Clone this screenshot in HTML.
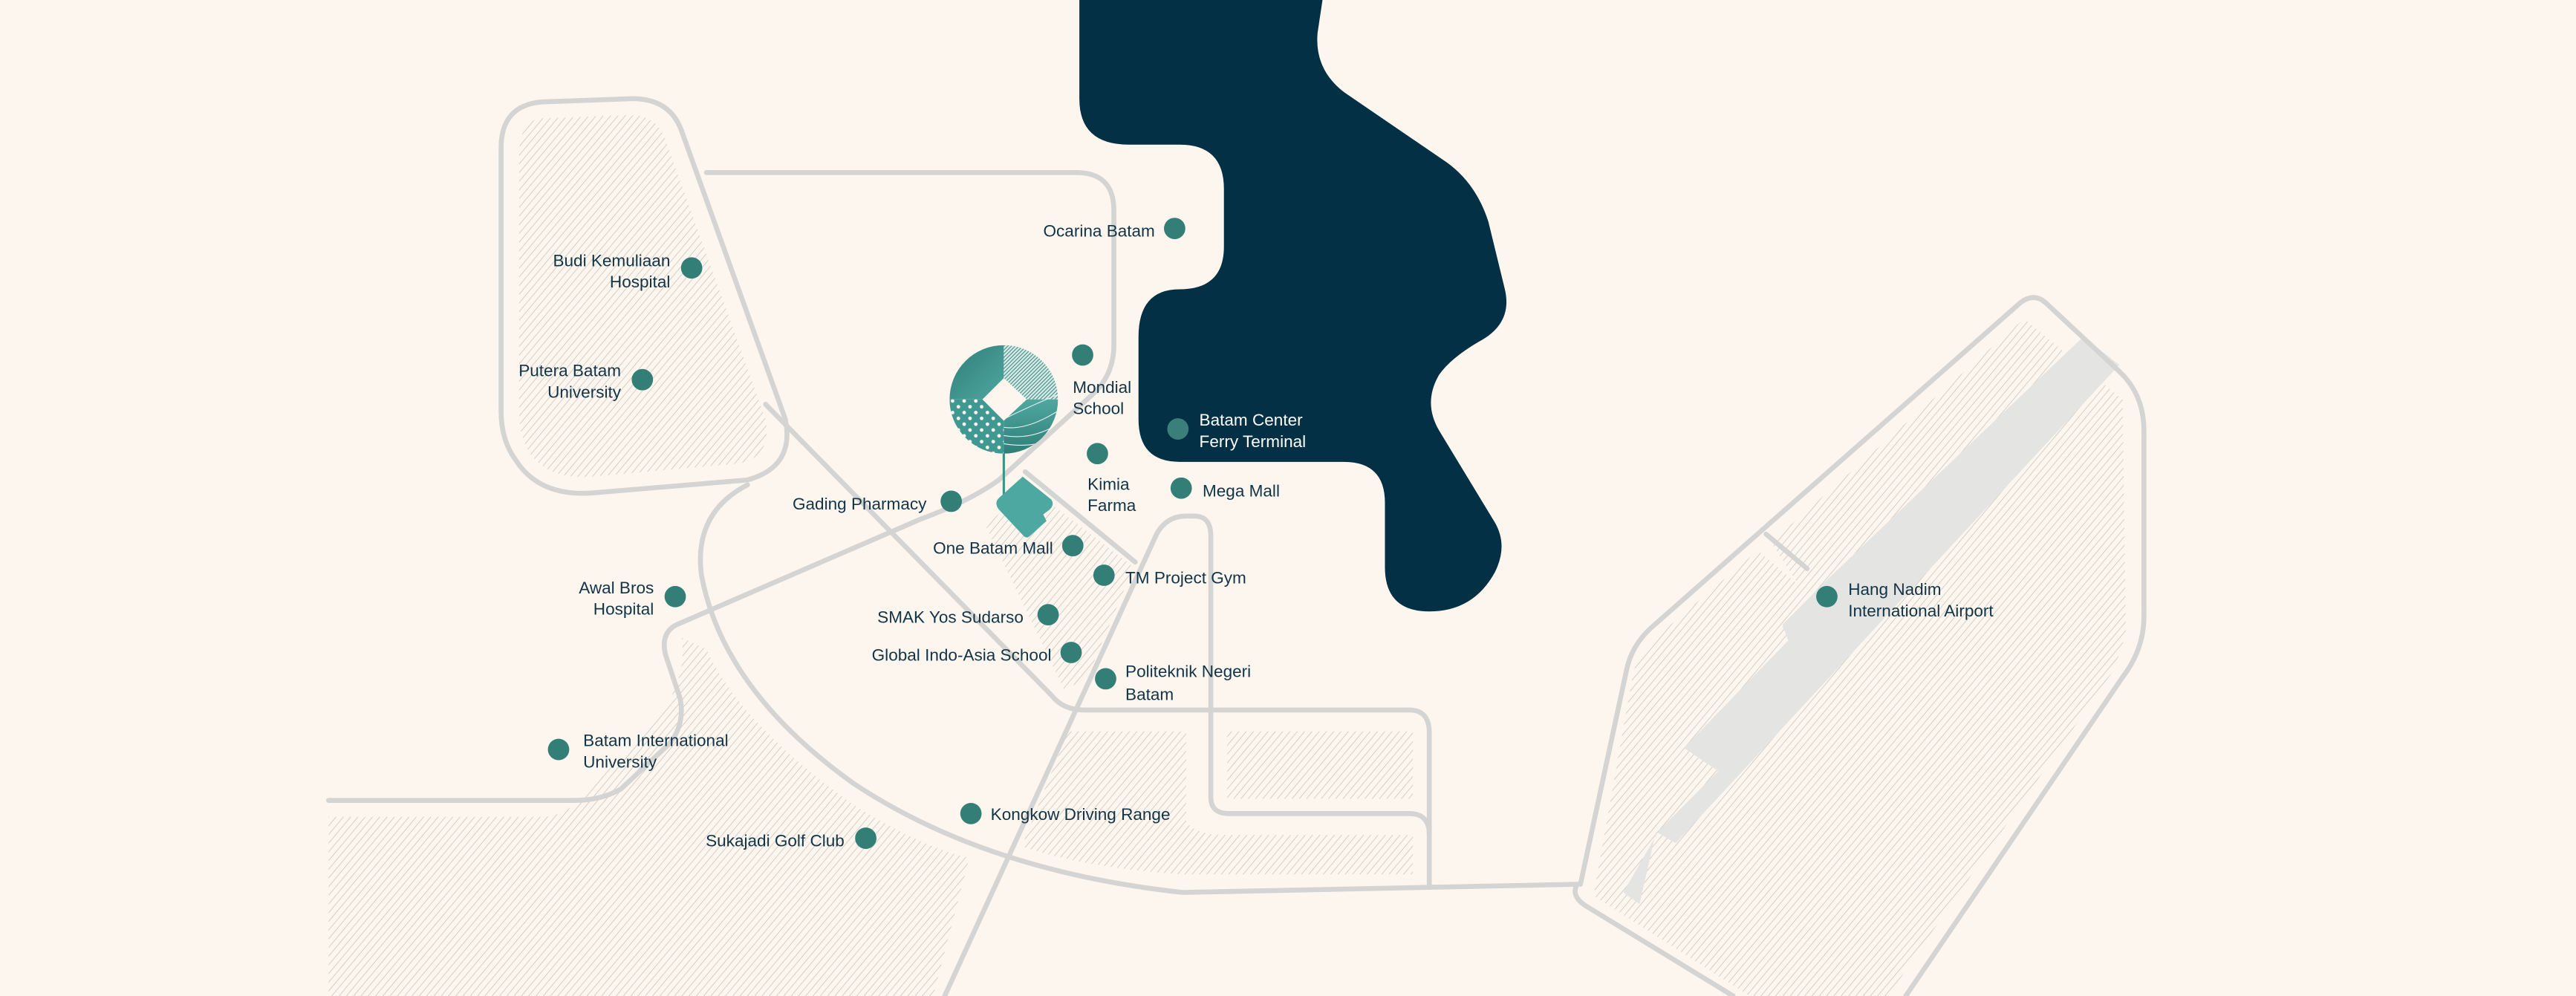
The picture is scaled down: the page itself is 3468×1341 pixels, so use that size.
<!DOCTYPE html>
<html><head><meta charset="utf-8"><style>
html,body{margin:0;padding:0;background:#fdf6ee;}
svg{display:block}
text{font-family:"Liberation Sans Narrow","Liberation Sans",sans-serif;font-size:10.2px;fill:#123447}
</style></head><body>
<svg width="3468" height="1341" viewBox="0 0 1568 606" preserveAspectRatio="none" xmlns="http://www.w3.org/2000/svg">
<defs>
<pattern id="h" patternUnits="userSpaceOnUse" width="3.4" height="3.4" patternTransform="rotate(40)">
<line x1="0" y1="0" x2="0" y2="3.4" stroke="#cdcac4" stroke-width="0.8"/>
</pattern>
<pattern id="st" patternUnits="userSpaceOnUse" width="1.6" height="1.6" patternTransform="rotate(45)">
<rect width="1.6" height="1.6" fill="#d8e9e6"/><line x1="0" y1="0" x2="0" y2="1.6" stroke="#3d8f88" stroke-width="1"/>
</pattern>
<pattern id="dots" patternUnits="userSpaceOnUse" width="5" height="5" patternTransform="rotate(45)">
<rect width="5" height="5" fill="#3f9992"/><circle cx="2.5" cy="2.5" r="1.1" fill="#fdf6ee"/>
</pattern>
<linearGradient id="g1" x1="0" y1="0" x2="1" y2="1"><stop offset="0" stop-color="#2f7e77"/><stop offset="1" stop-color="#4fa8a1"/></linearGradient>
<linearGradient id="g2" x1="0" y1="0" x2="0" y2="1"><stop offset="0" stop-color="#4fa8a1"/><stop offset="1" stop-color="#2f7e77"/></linearGradient>
<clipPath id="cc"><circle cx="611" cy="243" r="33"/></clipPath>
</defs>
<rect width="1568" height="606" fill="#fdf6ee"/>

<g fill="url(#h)">
<path d="M330,72 L383,70 Q400,70 405,85 L466,255 Q470,278 450,282 L360,290 Q333,292 322,275 Q316,265 316,250 L316,95 Q316,73 330,72 Z"/>
<path d="M200,606 L200,497 L330,497 Q345,497 360,480 L405,430 Q418,410 415,388 L430,395 Q450,440 520,490 Q560,515 590,522 L568,606 Z"/>
<path d="M600,320 L626,296 L690,345 L662,412 L648,420 Z"/>
<path d="M650,445 L722,445 L722,500 Q728,508 745,508 L860,508 L860,532 L720,532 Q660,528 622,515 Z"/>
<rect x="747" y="445" width="113" height="41"/>
<path d="M1078,330 L1232,194 L1292,243 L1294,385 Q1290,400 1285,410 L1160,590 L1150,606 L1065,606 L970,545 L994,410 Q998,395 1010,386 L1070,335 L1095,356 Z"/>
</g>
<path d="M1268,205 L1290,222 L1020,513 L1008,506 L998,550 L988,543 L1010,505 L1060,455 L1045,440 L1090,394 L1085,380 L1115,350 Z" fill="#e4e4e2"/>
<path d="M1268,205 L1290,222 L1050,472 L1025,455 Z" fill="#e4e4e2"/>
<path d="M1115,350 L1097,368 L1085,382 L1093,392 L1120,372 Z" fill="#e4e4e2"/>

<path d="M657,0 L657,60 Q657,88 687,88 L718,88 Q745,88 745,115 L745,150 Q745,176 718,176 Q693,176 693,205 L693,255 Q693,281 718,281 L818,281 Q843,281 843,306 L843,345 Q843,372 870,372 Q897,372 910,348 Q918,332 910,318 L876,262 Q866,245 876,228 Q883,218 900,208 Q921,197 916,176 L906,135 Q898,110 878,97 L818,56 Q800,42 802,20 L805,0 Z" fill="#033044"/>

<g fill="none" stroke="#d4d4d2" stroke-width="3" stroke-linejoin="round" stroke-linecap="round">
<path d="M330,62 L385,60 Q408,60 415,80 L478,255 Q484,284 455,292 L360,300 Q328,302 314,280 Q305,268 305,250 L305,90 Q305,64 330,62 Z"/>
<path d="M430,105 L655,105 Q678,105 678,128 L678,210 Q678,228 665,240 L608,292 Q590,305 560,316 L412,380 Q402,385 405,398 L414,425 Q417,440 408,452 L378,480 Q366,487 350,487 L200,487"/>
<path d="M455,295 Q422,312 427,350 Q440,420 520,477 Q600,530 720,543 L960,538"/>
<path d="M466,246 L640,423 Q647,432 660,432 L858,432 Q870,432 870,446 L870,540"/>
<path d="M624,287 L691,342"/>
<path d="M575,606 L704,325 Q710,314 722,314 L727,314 Q737,314 737,326 L737,485 Q737,495 748,495 L858,495 Q870,495 870,508"/>
<path d="M960,538 Q956,545 965,551 L1055,606 M1160,606 L1292,412 Q1305,395 1305,375 L1305,262 Q1305,240 1290,226 L1245,184 Q1238,178 1230,184 L1005,382 Q993,393 990,408 L962,538"/>
<path d="M1075,325 L1100,346"/>
</g>

<line x1="611" y1="274" x2="611" y2="305" stroke="#3d938c" stroke-width="1.4"/>
<path d="M622.5,290 L640,304 Q642,307 639,310 L635,313 L637,317 L627,326 Q625,328 623,326 L608,310 Q605,306 608,303 Z" fill="#4ea8a2"/>
<g clip-path="url(#cc)">
<rect x="578" y="210" width="33" height="33" fill="url(#g1)"/>
<rect x="611" y="210" width="33" height="33" fill="url(#st)"/>
<rect x="578" y="243" width="33" height="33" fill="url(#dots)"/>
<rect x="611" y="243" width="33" height="33" fill="url(#g2)"/>
<g fill="none" stroke="#e8f2f0" stroke-width="0.5">
<path d="M611,255 Q625,248 644,240"/><path d="M611,260 Q625,262 644,250"/><path d="M611,265 Q628,268 644,258"/><path d="M611,270 Q628,273 644,266"/>
</g>
</g>
<path d="M611,230 L625,243 L611,256 L598,243 Z" fill="#fdf6ee"/>

<g fill="#337f78">
<circle cx="715" cy="139" r="6.5"/><circle cx="421" cy="163" r="6.5"/><circle cx="391" cy="231" r="6.5"/>
<circle cx="659" cy="216" r="6.5"/><circle cx="717" cy="261" r="6.5" fill="#3b7f7a"/><circle cx="668" cy="276" r="6.5"/>
<circle cx="719" cy="297" r="6.5"/><circle cx="579" cy="305" r="6.5"/><circle cx="653" cy="332" r="6.5"/>
<circle cx="672" cy="350" r="6.5"/><circle cx="411" cy="363" r="6.5"/><circle cx="638" cy="374" r="6.5"/>
<circle cx="652" cy="397" r="6.5"/><circle cx="673" cy="413" r="6.5"/><circle cx="340" cy="456" r="6.5"/>
<circle cx="1112" cy="363" r="6.5"/><circle cx="591" cy="495" r="6.5"/><circle cx="527" cy="510" r="6.5"/>
</g>

<g text-anchor="end">
<text x="703" y="144">Ocarina Batam</text>
<text x="408" y="162">Budi Kemuliaan</text><text x="408" y="175">Hospital</text>
<text x="378" y="229">Putera Batam</text><text x="378" y="242">University</text>
<text x="564" y="310">Gading Pharmacy</text>
<text x="641" y="337">One Batam Mall</text>
<text x="398" y="361">Awal Bros</text><text x="398" y="374">Hospital</text>
<text x="623" y="379">SMAK Yos Sudarso</text>
<text x="640" y="402">Global Indo-Asia School</text>
<text x="514" y="515">Sukajadi Golf Club</text>
</g>
<text x="653" y="239">Mondial</text><text x="653" y="252">School</text>
<text x="730" y="259" style="fill:#ffffff">Batam Center</text><text x="730" y="272" style="fill:#ffffff">Ferry Terminal</text>
<text x="662" y="298">Kimia</text><text x="662" y="311">Farma</text>
<text x="732" y="302">Mega Mall</text>
<text x="685" y="355">TM Project Gym</text>
<text x="685" y="412">Politeknik Negeri</text><text x="685" y="426">Batam</text>
<text x="355" y="454">Batam International</text><text x="355" y="467">University</text>
<text x="1125" y="362">Hang Nadim</text><text x="1125" y="375">International Airport</text>
<text x="603" y="499">Kongkow Driving Range</text>
</svg>
</body></html>
